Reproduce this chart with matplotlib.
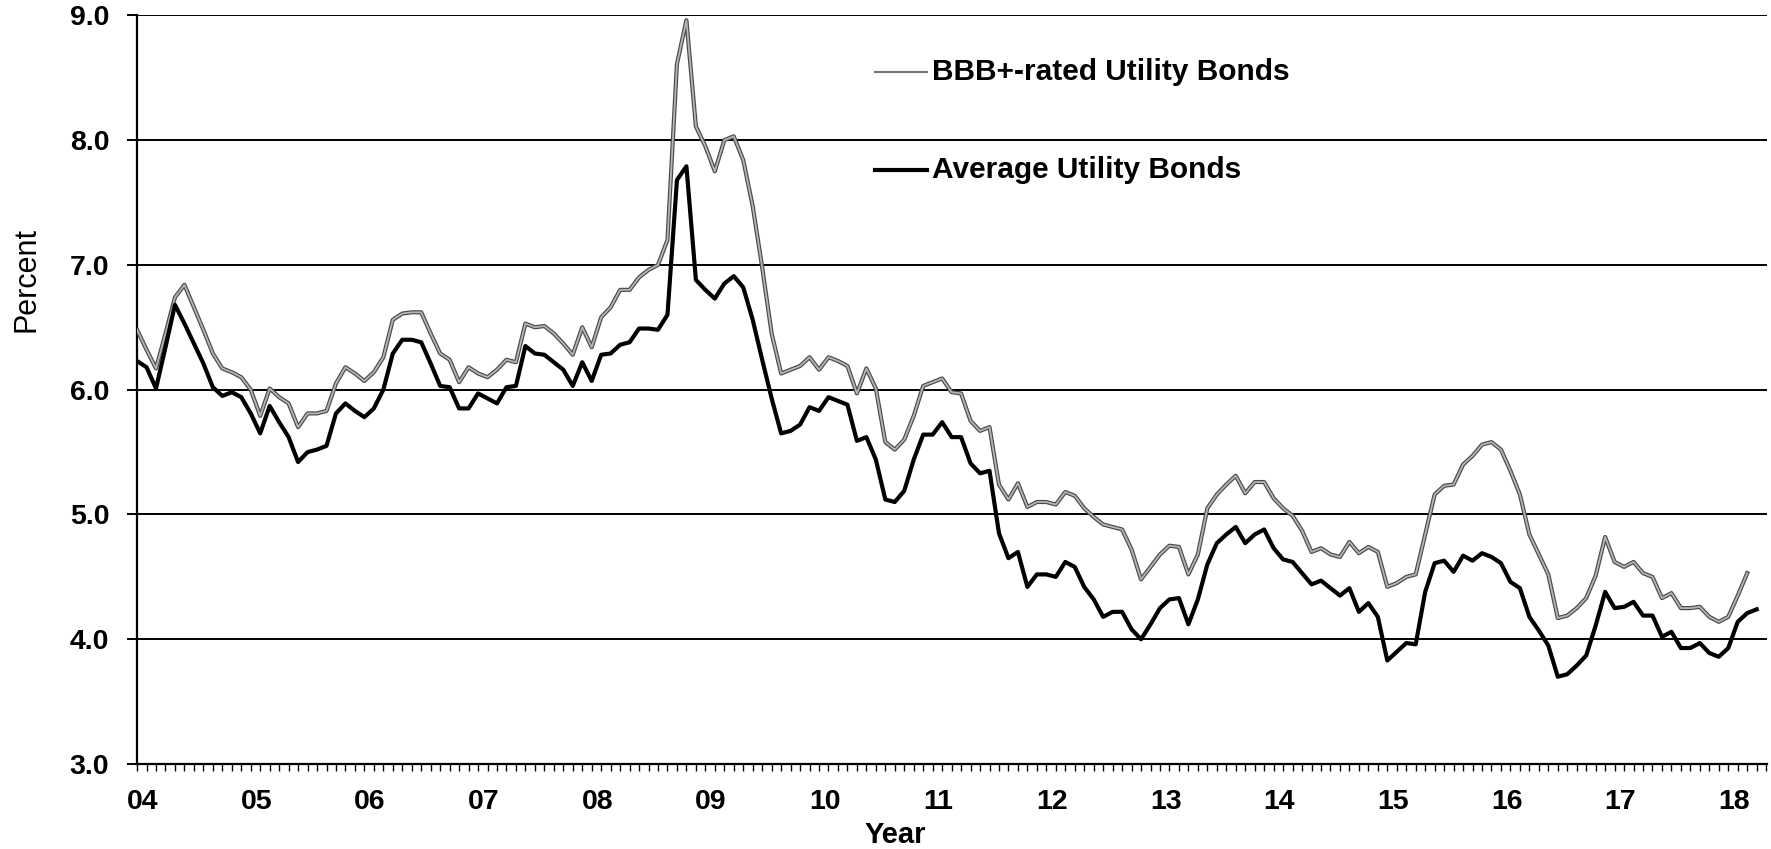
import numpy as np
import matplotlib
matplotlib.use('Agg')
import matplotlib.pyplot as plt
import matplotlib.patheffects as pe
from matplotlib.lines import Line2D

plt.rcParams['font.family'] = ['Liberation Sans', 'DejaVu Sans']

# monthly yields, Jan 2004 onwards (percent)
avg_bonds = [
    6.23, 6.18, 6.01, 6.34, 6.68, 6.53, 6.37, 6.21, 6.02, 5.95, 5.98, 5.94,   # 2004
    5.81, 5.65, 5.87, 5.74, 5.62, 5.42, 5.50, 5.52, 5.55, 5.81, 5.89, 5.83,   # 2005
    5.78, 5.85, 6.00, 6.29, 6.40, 6.40, 6.38, 6.21, 6.03, 6.02, 5.85, 5.85,   # 2006
    5.97, 5.93, 5.89, 6.02, 6.03, 6.35, 6.29, 6.28, 6.22, 6.16, 6.03, 6.22,   # 2007
    6.07, 6.28, 6.29, 6.36, 6.38, 6.49, 6.49, 6.48, 6.60, 7.68, 7.79, 6.88,   # 2008
    6.80, 6.73, 6.85, 6.91, 6.82, 6.56, 6.24, 5.93, 5.65, 5.67, 5.72, 5.86,   # 2009
    5.83, 5.94, 5.91, 5.88, 5.59, 5.62, 5.44, 5.12, 5.10, 5.19, 5.44, 5.64,   # 2010
    5.64, 5.74, 5.62, 5.62, 5.41, 5.33, 5.35, 4.85, 4.65, 4.70, 4.42, 4.52,   # 2011
    4.52, 4.50, 4.62, 4.58, 4.42, 4.32, 4.18, 4.22, 4.22, 4.08, 4.00, 4.12,   # 2012
    4.25, 4.32, 4.33, 4.12, 4.32, 4.60, 4.77, 4.84, 4.90, 4.77, 4.84, 4.88,   # 2013
    4.73, 4.64, 4.62, 4.53, 4.44, 4.47, 4.41, 4.35, 4.41, 4.22, 4.29, 4.18,   # 2014
    3.83, 3.90, 3.97, 3.96, 4.38, 4.61, 4.63, 4.54, 4.67, 4.63, 4.69, 4.66,   # 2015
    4.61, 4.46, 4.41, 4.18, 4.07, 3.95, 3.70, 3.72, 3.79, 3.87, 4.11, 4.38,   # 2016
    4.25, 4.26, 4.30, 4.19, 4.19, 4.02, 4.06, 3.93, 3.93, 3.97, 3.89, 3.86,   # 2017
    3.93, 4.14, 4.21, 4.24,                                                   # 2018
]

bbb_bonds = [
    6.48, 6.32, 6.17, 6.45, 6.74, 6.84, 6.66, 6.48, 6.29, 6.17, 6.14, 6.10,
    6.00, 5.79, 6.01, 5.94, 5.89, 5.70, 5.81, 5.81, 5.83, 6.05, 6.18, 6.13,
    6.07, 6.14, 6.26, 6.56, 6.61, 6.62, 6.62, 6.45, 6.29, 6.24, 6.06, 6.18,
    6.13, 6.10, 6.16, 6.24, 6.22, 6.53, 6.50, 6.51, 6.45, 6.37, 6.28, 6.50,
    6.34, 6.58, 6.66, 6.80, 6.80, 6.90, 6.96, 7.00, 7.20, 8.61, 8.96, 8.11,
    7.95, 7.75, 8.00, 8.03, 7.84, 7.47, 6.98, 6.45, 6.13, 6.16, 6.19, 6.26,
    6.16, 6.26, 6.23, 6.19, 5.97, 6.17, 6.01, 5.58, 5.52, 5.60, 5.79, 6.03,
    6.06, 6.09, 5.98, 5.97, 5.75, 5.67, 5.70, 5.24, 5.12, 5.25, 5.06, 5.10,
    5.10, 5.08, 5.18, 5.15, 5.05, 4.98, 4.92, 4.90, 4.88, 4.72, 4.48, 4.58,
    4.68, 4.75, 4.74, 4.52, 4.68, 5.05, 5.16, 5.24, 5.31, 5.17, 5.26, 5.26,
    5.13, 5.05, 4.99, 4.87, 4.70, 4.73, 4.68, 4.66, 4.78, 4.69, 4.74, 4.70,
    4.42, 4.45, 4.50, 4.52, 4.84, 5.16, 5.23, 5.24, 5.40, 5.47, 5.56, 5.58,
    5.52, 5.35, 5.16, 4.84, 4.68, 4.52, 4.17, 4.19, 4.25, 4.33, 4.51, 4.82,
    4.62, 4.58, 4.62, 4.53, 4.50, 4.33, 4.37, 4.25, 4.25, 4.26, 4.18, 4.14,
    4.18, 4.35, 4.53,
]

year_labels = ['04', '05', '06', '07', '08', '09', '10', '11',
               '12', '13', '14', '15', '16', '17', '18']
y_ticks = [3.0, 4.0, 5.0, 6.0, 7.0, 8.0, 9.0]

fig = plt.figure(figsize=(17.71, 8.49), dpi=100)
ax = fig.add_axes([0.0774, 0.100, 0.9204, 0.882])

# horizontal grid lines
for v in y_ticks[1:]:
    ax.axhline(v, color='black', lw=1.4, zorder=1)

x_bbb = np.arange(len(bbb_bonds))
x_avg = np.arange(len(avg_bonds))

ax.plot(x_bbb, bbb_bonds, color='#b5b5b5', lw=1.3, zorder=3,
        path_effects=[pe.Stroke(linewidth=3.0, foreground='#4a4a4a'), pe.Normal()])
ax.plot(x_avg, avg_bonds, color='black', lw=3.0, zorder=4)

ax.set_xlim(0, 172.1)
ax.set_ylim(3.0, 9.0)

ax.set_yticks(y_ticks)
ax.set_yticklabels(['%.1f' % v for v in y_ticks], fontsize=20.5, fontweight='bold')
ax.tick_params(axis='y', direction='out', length=7, width=1.4, pad=13)

ax.set_xticks([12 * i + 0.6 for i in range(len(year_labels))])
ax.set_xticklabels(year_labels, fontsize=20.5, fontweight='bold')
ax.set_xticks(np.arange(0, 173), minor=True)
ax.tick_params(axis='x', which='major', length=0, pad=18)
ax.tick_params(axis='x', which='minor', direction='out', length=5, width=1.0)

for s in ['top', 'right']:
    ax.spines[s].set_visible(False)
for s in ['left', 'bottom']:
    ax.spines[s].set_linewidth(1.6)

fig.text(895 / 1771, 6 / 849, 'Year', ha='center', va='baseline', fontsize=21, fontweight='bold')
fig.text(0.0147, 1 - 279 / 849, 'Percent', rotation=90, ha='center', va='center', fontsize=22)

# legend drawn as text next to short line samples
fig.add_artist(Line2D([875 / 1771, 927 / 1771], [1 - 72 / 849, 1 - 72 / 849],
                      color='#777777', lw=1.6))
fig.text(932 / 1771, 1 - 72 / 849, 'BBB+-rated Utility Bonds', ha='left', va='center',
         fontsize=21.5, fontweight='bold')
fig.add_artist(Line2D([875 / 1771, 927 / 1771], [1 - 170 / 849, 1 - 170 / 849],
                      color='black', lw=3.0))
fig.text(932 / 1771, 1 - 170 / 849, 'Average Utility Bonds', ha='left', va='center',
         fontsize=21.5, fontweight='bold')

fig.savefig('out.png', dpi=100)
